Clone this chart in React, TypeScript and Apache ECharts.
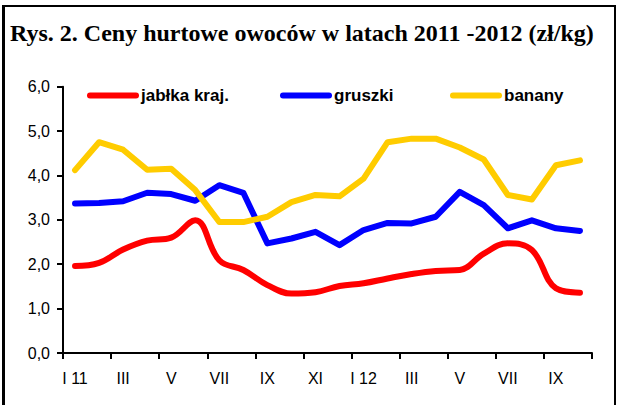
import React, { useEffect, useRef } from "react";
import * as echarts from "echarts";

// Months from January 2011 to October 2012
const months = [
  "I 11", "II", "III", "IV", "V", "VI", "VII", "VIII", "IX", "X", "XI", "XII",
  "I 12", "II", "III", "IV", "V", "VI", "VII", "VIII", "IX", "X",
];

// Wholesale prices, zł/kg
const jablka = [1.96, 2.03, 2.33, 2.53, 2.6, 2.99, 2.09, 1.87, 1.53, 1.34, 1.37, 1.51, 1.57, 1.68, 1.78, 1.85, 1.87, 2.24, 2.47, 2.32, 1.46, 1.36];
const gruszki = [3.37, 3.38, 3.42, 3.61, 3.58, 3.43, 3.78, 3.61, 2.47, 2.58, 2.73, 2.43, 2.77, 2.93, 2.92, 3.07, 3.63, 3.33, 2.81, 2.99, 2.81, 2.75];
const banany = [4.12, 4.75, 4.58, 4.13, 4.15, 3.67, 2.95, 2.95, 3.07, 3.4, 3.56, 3.53, 3.93, 4.75, 4.83, 4.83, 4.63, 4.36, 3.56, 3.46, 4.23, 4.34];

const seriesNames = ["jabłka kraj.", "gruszki", "banany"];
const colors = ["#ff0000", "#0000ff", "#ffcc00"];

const capsule = "path://M3,0 L49,0 A3,3 0 0 1 49,6 L3,6 A3,3 0 0 1 3,0 Z";
const sans = "Arial, 'Liberation Sans', sans-serif";

export default function App() {
  const ref = useRef<HTMLDivElement>(null);

  useEffect(() => {
    if (!ref.current) return;
    const chart = echarts.init(ref.current, undefined, { renderer: "svg" });

    const legendLefts = [87, 280, 450];
    const makeSeries = (i: number, data: number[], smooth: boolean | number) => ({
      name: seriesNames[i],
      type: "line",
      data,
      smooth,
      showSymbol: false,
      symbol: "none",
      color: colors[i],
      lineStyle: { width: 6, color: colors[i], cap: "round", join: "round" },
    });

    chart.setOption({
      animation: false,
      backgroundColor: "#ffffff",
      title: {
        text: "Rys. 2. Ceny hurtowe owoców w latach 2011 -2012 (zł/kg)",
        left: 10,
        top: 21,
        padding: 0,
        textStyle: {
          fontFamily: "'Times New Roman', 'Liberation Serif', serif",
          fontWeight: "bold",
          fontSize: 24,
          color: "#000",
        },
      },
      legend: seriesNames.map((n, i) => ({
        data: [n],
        left: legendLefts[i],
        top: 87,
        padding: 0,
        icon: capsule,
        itemWidth: 52,
        itemHeight: 6,
        itemStyle: { borderWidth: 0 },
        selectedMode: false,
        textStyle: { fontFamily: sans, fontWeight: "bold", fontSize: 17, color: "#000", padding: [3, 0, 0, -3] },
      })),
      grid: { left: 63, right: 26, top: 86.7, bottom: 52, containLabel: false },
      xAxis: {
        type: "category",
        data: months,
        boundaryGap: true,
        axisLine: { lineStyle: { color: "#000", width: 2 } },
        axisTick: { show: true, interval: 1, length: 6, lineStyle: { color: "#000", width: 2 } },
        axisLabel: { interval: 1, margin: 17, fontFamily: sans, fontSize: 16, color: "#000" },
        splitLine: { show: false },
      },
      yAxis: {
        type: "value",
        min: 0,
        max: 6,
        interval: 1,
        axisLine: { show: true, lineStyle: { color: "#000", width: 2 } },
        axisTick: { show: true, length: 6, lineStyle: { color: "#000", width: 2 } },
        axisLabel: {
          margin: 13,
          fontFamily: sans,
          fontSize: 16,
          color: "#000",
          formatter: (v: number) => v.toFixed(1).replace(".", ","),
        },
        splitLine: { show: false },
      },
      series: [
        makeSeries(0, jablka, 0.4),
        makeSeries(1, gruszki, false),
        makeSeries(2, banany, false),
      ],
      graphic: [
        { type: "line", shape: { x1: 2, y1: 6, x2: 616, y2: 6 }, style: { stroke: "#000", lineWidth: 2 } },
        { type: "line", shape: { x1: 3.5, y1: 5, x2: 3.5, y2: 405 }, style: { stroke: "#000", lineWidth: 3 } },
        { type: "line", shape: { x1: 615, y1: 5, x2: 615, y2: 405 }, style: { stroke: "#000", lineWidth: 2 } },
      ],
    });

    return () => chart.dispose();
  }, []);

  return (
    <div
      ref={ref}
      style={{ position: "fixed", left: 0, top: 0, width: 618, height: 405, background: "#fff" }}
    />
  );
}
